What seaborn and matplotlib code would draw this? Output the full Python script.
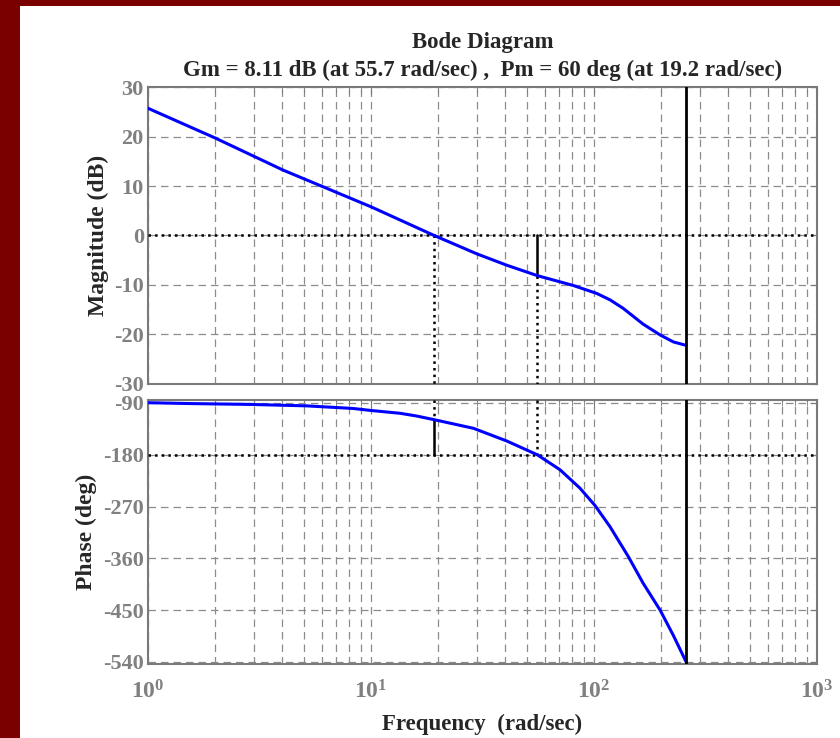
import numpy as np
import pandas as pd
import matplotlib
matplotlib.use("Agg")
import matplotlib.pyplot as plt
import matplotlib.patches as patches
from matplotlib.ticker import FixedLocator, NullFormatter, LogLocator
import seaborn as sns

# values
mag_freq = [1.0, 2.0, 4.04, 10.0, 19.2, 29.8, 40.6, 55.7, 80.8, 102.8, 118.0, 135.0,
            166.0, 198.0, 227.0, 259.0]
mag_db = [25.7, 19.7, 13.2, 5.8, 0.0, -3.7, -6.0, -8.11, -10.1, -11.7, -13.0, -14.7,
          -17.9, -20.1, -21.5, -22.2]

phase_freq = [1.0, 1.54, 2.87, 5.15, 8.3, 10.0, 13.5, 16.0, 19.2, 28.8, 40.6, 55.7,
              70.4, 86.5, 101.0, 118.0, 142.6, 166.0, 198.0, 227.0, 259.0]
phase_deg = [-89.5, -91.0, -92.5, -95.0, -99.5, -103.0, -107.9, -112.6, -119.0, -134.0,
             -156.0, -180.0, -206.0, -238.0, -268.0, -305.0, -357.0, -403.0, -450.0,
             -494.0, -540.0]

gain_margin = 8.11      # dB
gain_freq = 55.7        # rad/sec
phase_margin = 60       # deg
phase_freq_c = 19.2     # rad/sec
end_freq = 259.0

mag_ticks = [-30, -20, -10, 0, 10, 20, 30]
phase_ticks = [-540, -450, -360, -270, -180, -90]
freq_ticks = [1, 10, 100, 1000]
freq_labels = [r"$\mathrm{10^{0}}$", r"$\mathrm{10^{1}}$", r"$\mathrm{10^{2}}$", r"$\mathrm{10^{3}}$"]

sns.set_style("white")
plt.rcParams["font.family"] = ["Liberation Serif", "DejaVu Serif"]
plt.rcParams["font.weight"] = "bold"
plt.rcParams["axes.unicode_minus"] = False
plt.rcParams["mathtext.fontset"] = "custom"
plt.rcParams["mathtext.rm"] = "Liberation Serif:bold"
plt.rcParams["mathtext.it"] = "Liberation Serif:italic:bold"
plt.rcParams["mathtext.bf"] = "Liberation Serif:bold"

GRAY = "#7a7a7a"
TICK_GRAY = "#808080"

fig = plt.figure(figsize=(8.4, 7.38), dpi=100, facecolor="white")
# dark red frame on the left and top
fig.patches.append(patches.Rectangle((0, 0), 20 / 840, 1, transform=fig.transFigure,
                                     facecolor="#7a0000", edgecolor="none", zorder=-10))
fig.patches.append(patches.Rectangle((0, 1 - 6 / 738), 1, 6 / 738, transform=fig.transFigure,
                                     facecolor="#7a0000", edgecolor="none", zorder=-10))

ax_mag = fig.add_axes([0.1762, 0.4797, 0.7964, 0.4024])
ax_ph = fig.add_axes([0.1762, 0.1003, 0.7964, 0.3577])

mag_df = pd.DataFrame({"freq": mag_freq, "mag": mag_db})
ph_df = pd.DataFrame({"freq": phase_freq, "phase": phase_deg})

sns.lineplot(data=mag_df, x="freq", y="mag", ax=ax_mag, color="#0000ff", lw=2.2,
             sort=False, zorder=5)
sns.lineplot(data=ph_df, x="freq", y="phase", ax=ax_ph, color="#0000ff", lw=2.2,
             sort=False, zorder=5)

for ax in (ax_mag, ax_ph):
    ax.set_xscale("log")
    ax.set_xlim(1, 1000)
    ax.xaxis.set_major_locator(FixedLocator(freq_ticks))
    ax.xaxis.set_minor_locator(LogLocator(base=10, subs=np.arange(2, 10)))
    ax.xaxis.set_minor_formatter(NullFormatter())
    ax.grid(which="both", axis="x", color="#8c8c8c", lw=0.9, linestyle=(0, (6, 4)))
    ax.grid(which="major", axis="y", color="#8c8c8c", lw=0.9, linestyle=(0, (6, 4)))
    ax.tick_params(which="both", direction="in", top=True, right=True, colors=GRAY,
                   labelcolor=TICK_GRAY, labelsize=16, pad=3)
    ax.tick_params(which="major", length=5)
    ax.tick_params(which="minor", length=4)
    for s in ax.spines.values():
        s.set_color(GRAY)
        s.set_linewidth(1.5)
    ax.set_facecolor("white")
    # closing frequency marker
    ax.axvline(end_freq, color="black", lw=2, zorder=6)

ax_mag.set_ylim(-30, 30)
ax_mag.set_yticks(mag_ticks)
ax_mag.set_xticklabels([])
ax_mag.set_xlabel("")
ax_mag.set_ylabel("Magnitude (dB)", fontsize=17, fontweight="bold", labelpad=4)

ax_ph.set_ylim(-543.5, -84.8)
ax_ph.set_yticks(phase_ticks)
ax_ph.set_xticklabels(freq_labels)
ax_ph.tick_params(axis="x", which="major", pad=12, labelsize=17)
ax_ph.set_xlabel("Frequency  (rad/sec)", fontsize=16.5, fontweight="bold", labelpad=7)
ax_ph.set_ylabel("Phase (deg)", fontsize=17, fontweight="bold", labelpad=4)

# margin markers, magnitude
ax_mag.axhline(0, color="black", ls=":", lw=1.8, zorder=4)
ax_mag.plot([phase_freq_c, phase_freq_c], [0, -30], color="black", ls=":", lw=1.8, zorder=4)
ax_mag.plot([gain_freq, gain_freq], [0, -gain_margin], color="black", lw=1.8, zorder=4)
ax_mag.plot([gain_freq, gain_freq], [-gain_margin, -30], color="black", ls=":", lw=1.8, zorder=4)

# margin markers, phase
pm_level = -180 + phase_margin
ax_ph.axhline(-180, color="black", ls=":", lw=1.8, zorder=4)
ax_ph.plot([phase_freq_c, phase_freq_c], [-84.8, pm_level], color="black", ls=":", lw=1.8, zorder=4)
ax_ph.plot([phase_freq_c, phase_freq_c], [pm_level, -180], color="black", lw=1.8, zorder=4)
ax_ph.plot([gain_freq, gain_freq], [-84.8, -180], color="black", ls=":", lw=1.8, zorder=4)

ax_mag.set_title("Bode Diagram\n"
                 f"Gm = {gain_margin} dB (at {gain_freq} rad/sec) ,  "
                 f"Pm = {phase_margin} deg (at {phase_freq_c} rad/sec)",
                 fontsize=16.5, fontweight="bold", pad=8, linespacing=1.4)

fig.savefig("out.png", dpi=100, facecolor=fig.get_facecolor())
